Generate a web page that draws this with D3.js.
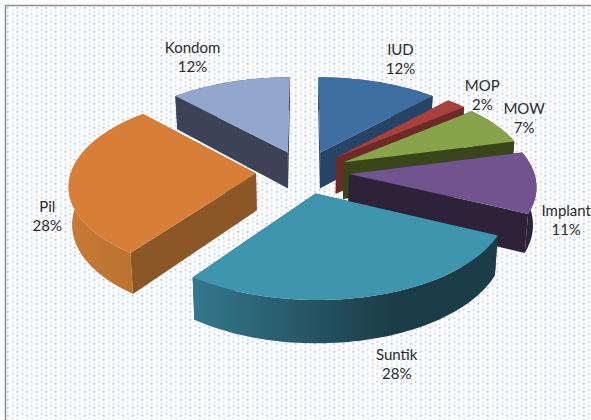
<!DOCTYPE html>
<html>
<head>
<meta charset="utf-8">
<script src="https://d3js.org/d3.v7.min.js"></script>
<style>
  html, body { margin: 0; padding: 0; background: #fff; }
  svg { display: block; }
  text { font-family: Lato, "Open Sans", sans-serif; font-size: 15px; fill: #2a2a2a; text-anchor: middle; }
</style>
</head>
<body>
<script>
var categories = ["IUD", "MOP", "MOW", "Implant", "Suntik", "Pil", "Kondom"];
var values = [12, 2, 7, 11, 28, 28, 12];
var percentLabels = ["12%", "2%", "7%", "11%", "28%", "28%", "12%"];

var topColors = ["#3f6ea3", "#a8403c", "#87a44a", "#71548e", "#3f94ae", "#d77f38", "#92a6ce"];
var wallColors = ["#254466", "#6d2a27", "#3a4519", "#2d2238", "#1b3d47", "#8b5726", "#3c4356"];
var outerStops = [
  ["#254466", "#254466"], ["#6d2a27", "#6d2a27"], ["#3a4519", "#3a4519"], ["#2d2238", "#2d2238"],
  ["#34788d", "#1b3d47"], ["#c87a36", "#b8722f"], ["#3c4356", "#3c4356"]
];
// how far each slice is pulled out, and label centre relative to its outer rim point
var explodes = [45, 45, 45, 45, 45, 48, 45];
var labelNudge = [[22, -27], [26, -13], [28, -11], [30, 34], [26, 64], [-22, 33], [-37, -29]];

var width = 591, height = 420;
var cx = 304, cy = 172, radius = 185;
var tilt = 0.478, persp = 0.00064, depth = 37, shrink = 0.985;

var svg = d3.select("body").append("svg").attr("width", width).attr("height", height);
var defs = svg.append("defs");

// dotted chart background
var dots = defs.append("pattern").attr("id", "dots")
  .attr("patternUnits", "userSpaceOnUse").attr("width", 9.6).attr("height", 8)
  .attr("x", 7).attr("y", 7);
dots.append("rect").attr("x", 0).attr("y", 0).attr("width", 1.6).attr("height", 1.6).attr("fill", "#9fb6e2");
dots.append("rect").attr("x", 0).attr("y", 4).attr("width", 1.6).attr("height", 1.6).attr("fill", "#d2dff4");
dots.append("rect").attr("x", 4.8).attr("y", 2).attr("width", 1.6).attr("height", 1.6).attr("fill", "#d2dff4");
dots.append("rect").attr("x", 4.8).attr("y", 6).attr("width", 1.6).attr("height", 1.6).attr("fill", "#b6c8ec");

svg.append("rect").attr("x", 5.5).attr("y", 5.5).attr("width", width).attr("height", height)
  .attr("fill", "url(#dots)").attr("stroke", "#8c8c8c").attr("stroke-width", 1.5);

var slices = d3.pie().sort(null).value(function(d) { return d; })(values);

// ground position of a point on a slice, then perspective onto the screen
function project(d, angle, r, low) {
  var mid = (d.startAngle + d.endAngle) / 2;
  var explode = explodes[d.index];
  var x = explode * Math.sin(mid) + r * Math.sin(angle);
  var y = -explode * Math.cos(mid) - r * Math.cos(angle);
  var f = 1 / (1 - y * persp);
  var sx = x * f, sy = y * tilt * f;
  if (low) return [cx + sx * shrink, cy + sy + depth * f];
  return [cx + sx, cy + sy];
}

function rim(d, low) {
  var steps = Math.max(4, Math.ceil((d.endAngle - d.startAngle) / 0.03));
  return d3.range(steps + 1).map(function(i) {
    return project(d, d.startAngle + (d.endAngle - d.startAngle) * i / steps, radius, low);
  });
}

var line = d3.line();
var drawOrder = [6, 0, 1, 2, 3, 5, 4];

drawOrder.forEach(function(i) {
  var d = slices[i];
  var g = svg.append("g").attr("class", "slice");
  var apex = project(d, 0, 0, false), apexLow = project(d, 0, 0, true);
  var top = rim(d, false), low = rim(d, true);
  var first = top[0], last = top[top.length - 1];
  var firstLow = low[0], lastLow = low[low.length - 1];

  g.append("path").attr("fill", wallColors[i])
    .attr("d", line([apex, first, firstLow, apexLow]) + "Z");
  g.append("path").attr("fill", wallColors[i])
    .attr("d", line([apex, last, lastLow, apexLow]) + "Z");

  var xs = d3.extent(top, function(p) { return p[0]; });
  var grad = defs.append("linearGradient").attr("id", "outer" + i)
    .attr("gradientUnits", "userSpaceOnUse")
    .attr("x1", xs[0]).attr("x2", xs[1]).attr("y1", 0).attr("y2", 0);
  grad.append("stop").attr("offset", 0).attr("stop-color", outerStops[i][0]);
  grad.append("stop").attr("offset", i === 4 ? 0.65 : 1).attr("stop-color", outerStops[i][1]);

  g.append("path").attr("fill", "url(#outer" + i + ")")
    .attr("d", line(top.concat(low.slice().reverse())) + "Z");

  g.append("path").attr("fill", topColors[i])
    .attr("d", line([apex].concat(top)) + "Z");
});

slices.forEach(function(d, i) {
  var mid = (d.startAngle + d.endAngle) / 2;
  var p = project(d, mid, radius, false);
  var t = svg.append("text")
    .attr("x", p[0] + labelNudge[i][0])
    .attr("y", p[1] + labelNudge[i][1]);
  t.append("tspan").attr("x", p[0] + labelNudge[i][0]).text(categories[i]);
  t.append("tspan").attr("x", p[0] + labelNudge[i][0]).attr("dy", 19).text(percentLabels[i]);
});
</script>
</body>
</html>
